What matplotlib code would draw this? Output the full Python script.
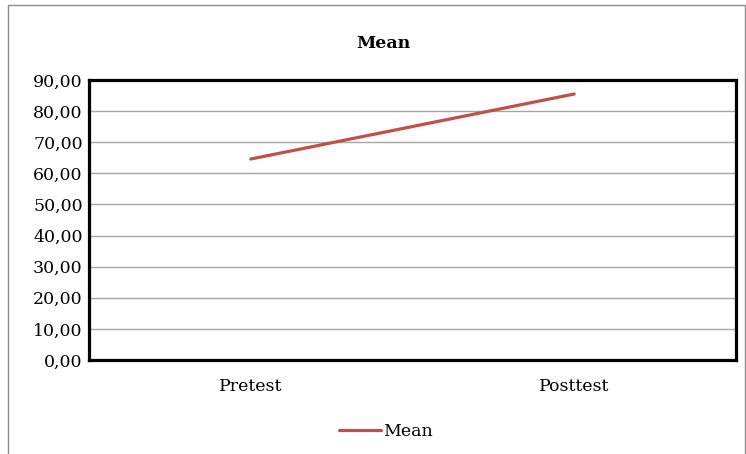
import matplotlib
matplotlib.use('Agg')
import matplotlib.pyplot as plt
from matplotlib.patches import Rectangle
from matplotlib.lines import Line2D
from matplotlib.ticker import FuncFormatter, MultipleLocator

categories = ['Pretest', 'Posttest']
mean_values = [64.6, 85.5]

plt.rcParams['font.family'] = ['DejaVu Serif']

fig = plt.figure(figsize=(7.46, 4.54), dpi=100)
fig.patch.set_facecolor('white')

# outer chart border
fig.add_artist(Rectangle((8 / 746, -0.01), 737 / 746, 1 - 5 / 454 + 0.01,
                         transform=fig.transFigure, fill=False,
                         edgecolor='#8c8c8c', linewidth=1.0))

ax = fig.add_axes([89 / 746, 1 - 360 / 454, 647 / 746, 280 / 454])
x = list(range(len(categories)))
ax.plot(x, mean_values, color='#c0504d', linewidth=2.3, solid_capstyle='round')

ax.set_xlim(-0.5, len(categories) - 0.5)
ax.set_ylim(0, 90)
ax.yaxis.set_major_locator(MultipleLocator(10))
ax.yaxis.set_major_formatter(FuncFormatter(lambda v, p: f'{v:.2f}'.replace('.', ',')))
ax.set_xticks(x)
ax.set_xticklabels(categories)
ax.grid(axis='y', color='#a6a6a6', linewidth=1.0)
ax.set_axisbelow(True)
ax.tick_params(axis='both', length=0, labelsize=12.5, colors='black')
ax.tick_params(axis='x', pad=13)
ax.tick_params(axis='y', pad=4.5)
for s in ax.spines.values():
    s.set_linewidth(2.3)
    s.set_color('black')

fig.text(383 / 746, 1 - 43 / 454, 'Mean', ha='center', va='center',
         fontsize=12.5, fontweight='bold')

handle = Line2D([], [], color='#c0504d', linewidth=2.3, solid_capstyle='round')
fig.legend([handle], ['Mean'], loc='center', bbox_to_anchor=(386 / 746, 1 - 432 / 454),
           frameon=False, fontsize=12.5, handlelength=2.4, handletextpad=0.1)

fig.savefig('out.png', dpi=100)
